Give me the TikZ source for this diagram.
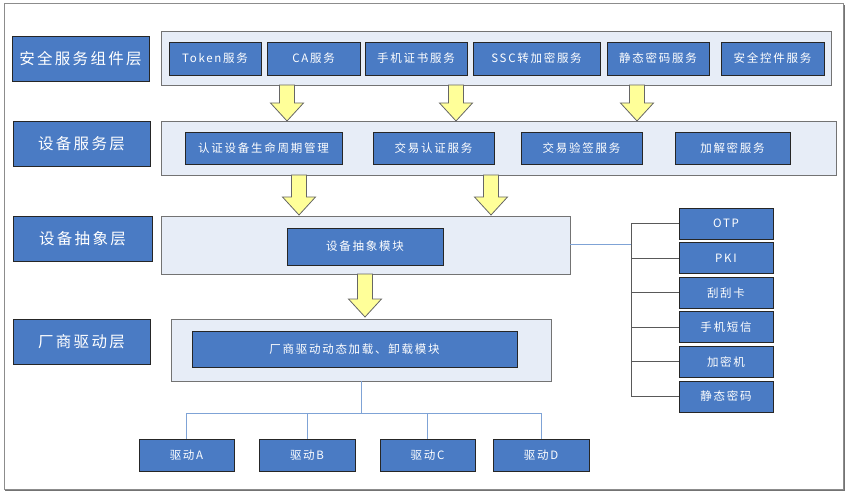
\documentclass[tikz,border=0pt]{standalone}
\usepackage{fontspec}
\setmainfont{Noto Sans CJK SC}
\newfontfamily\cjk[LetterSpace=15]{Noto Sans CJK SC}
\usepackage{xcolor}
\usepackage{tikz}
\usetikzlibrary{calc,positioning}
\definecolor{azulcaja}{HTML}{4A7BC4}
\definecolor{fondocapa}{HTML}{E7EDF7}
\definecolor{lineaazul}{HTML}{7FA3D6}
\definecolor{amarillo}{HTML}{FFFF99}
\tikzset{
  capa/.style={fill=azulcaja,draw=black!85,line width=0.9pt,text=white,font=\cjk\fontsize{15.5}{18}\selectfont},
  caja/.style={fill=azulcaja,draw=black!85,line width=0.9pt,text=white,font=\cjk\fontsize{11.5}{13}\selectfont,inner sep=0pt},
  panel/.style={fill=fondocapa,draw=black!55,line width=0.9pt,inner sep=0pt},
  rama/.style={draw=black!65,line width=0.9pt},
  azul/.style={draw=lineaazul,line width=1pt},
  flechab/.style={fill=amarillo,draw=black!60,line width=0.8pt,line join=miter},
  pics/flecha/.style={code={
    \draw[flechab] (-7.5,0) -- (7.5,0) -- (7.5,#1-18) -- (16.5,#1-18) -- (0,#1)
      -- (-16.5,#1-18) -- (-7.5,#1-18) -- cycle;}}
}
\begin{document}
\begin{tikzpicture}[x=1pt,y=-1pt]
\useasboundingbox (0,0) rectangle (848,494);
% marco
\draw[black!45,line width=1pt] (4,4) rectangle (843,489);
\draw[black!55,line width=1.2pt] (844.5,5) -- (844.5,490.5) -- (5,490.5);

% capas
\node[capa,minimum width=137,minimum height=45] (l1) at (80.5,58.5) {安全服务组件层};
\node[capa,minimum width=137,minimum height=45] (l2) at (81.5,143.5) {设备服务层};
\node[capa,minimum width=139,minimum height=45] (l3) at (82.5,238.5) {设备抽象层};
\node[capa,minimum width=137,minimum height=45] (l4) at (81.5,341.5) {厂商驱动层};

% paneles
\node[panel,minimum width=670,minimum height=54] (p1) at (496,58) {};
\node[panel,minimum width=675,minimum height=54] (p2) at (498.5,148) {};
\node[panel,minimum width=409,minimum height=58] (p3) at (365.5,245) {};
\node[panel,minimum width=380,minimum height=62] (p4) at (361,350) {};

% servicios de seguridad
\node[caja,minimum width=92,minimum height=33] (tok) at (215,58.5) {Token服务};
\node[caja,minimum width=93,minimum height=33] (ca) at (313.5,58.5) {CA服务};
\node[caja,minimum width=102,minimum height=33] (sjzs) at (416,58.5) {手机证书服务};
\node[caja,minimum width=127,minimum height=33] (ssc) at (536.5,58.5) {SSC转加密服务};
\node[caja,minimum width=102,minimum height=33] (jtmm) at (658,58.5) {静态密码服务};
\node[caja,minimum width=103,minimum height=33] (aqkj) at (772.5,58.5) {安全控件服务};

% servicios de equipo
\node[caja,minimum width=157,minimum height=32] (rzsb) at (263.5,148) {认证设备生命周期管理};
\node[caja,minimum width=121,minimum height=32] (jyrz) at (433.5,148) {交易认证服务};
\node[caja,minimum width=121,minimum height=32] (jyyq) at (581.5,148) {交易验签服务};
\node[caja,minimum width=115,minimum height=32] (jjm) at (732.5,148) {加解密服务};

% abstraccion y drivers
\node[caja,minimum width=156,minimum height=37] (sbcx) at (365,246.5) {设备抽象模块};
\node[caja,minimum width=325,minimum height=36] (cqdt) at (354.5,349) {厂商驱动动态加载、卸载模块};
\node[caja,minimum width=95,minimum height=32] (qa) at (186.5,455) {驱动A};
\node[caja,minimum width=96,minimum height=32] (qb) at (307,455) {驱动B};
\node[caja,minimum width=95,minimum height=32] (qc) at (427.5,455) {驱动C};
\node[caja,minimum width=96,minimum height=32] (qd) at (541,455) {驱动D};

% dispositivos
\foreach \n/\t [count=\i from 0] in {r1/OTP,r2/PKI,r3/刮刮卡,r4/手机短信,r5/加密机,r6/静态密码}
  \node[caja,minimum width=94,minimum height=31] (\n) at (726,223.5+34.6*\i) {\t};

% flechas
\pic at (287,85) {flecha=36};
\pic at (456,85) {flecha=36};
\pic at (637,85) {flecha=36};
\pic at (299,175) {flecha=40};
\pic at (491,175) {flecha=40};
\pic at (365,274) {flecha=43};

% conexiones
\coordinate (bx) at (631,0);
\draw[rama] (r1.west) -- (r1.west -| bx) -- (r6.west -| bx) -- (r6.west);
\foreach \n in {r2,r3,r4,r5}
  \draw[rama] (\n.west) -- (\n.west -| bx);
\draw[azul] (p3.east) -- (p3.east -| bx);
\draw[azul] (p4.south) -- ++(0,32) coordinate (t);
\draw[azul] (qa.north) |- (t) -| (qd.north);
\draw[azul] (qb.north) -- (qb.north |- t);
\draw[azul] (qc.north) -- (qc.north |- t);
\end{tikzpicture}
\end{document}
